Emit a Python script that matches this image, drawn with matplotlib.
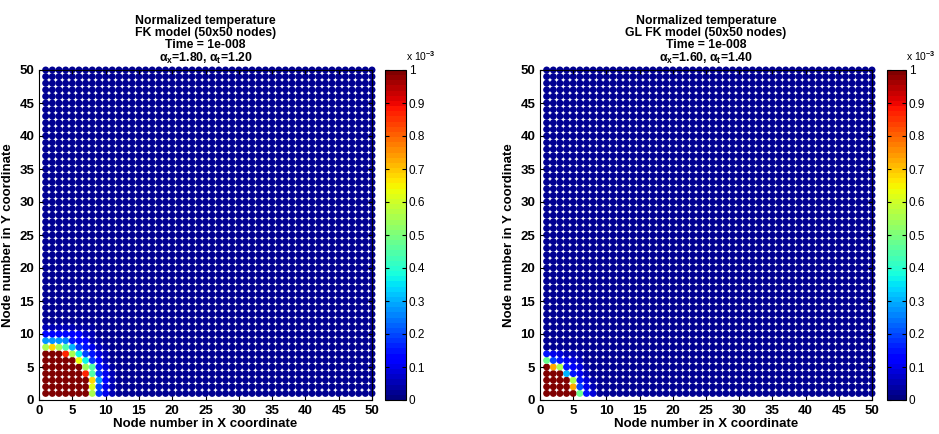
import numpy as np
import matplotlib
matplotlib.use("Agg")
from matplotlib import pyplot as plt

plt.rcParams['font.family'] = ['Liberation Sans', 'DejaVu Sans']
plt.rcParams['mathtext.fontset'] = 'custom'
plt.rcParams['mathtext.rm'] = 'Liberation Sans:bold'
plt.rcParams['mathtext.it'] = 'Liberation Sans:bold'

n_nodes = 50
background = 0.03   # far field value (x 1e-3)

# corner values, rows y=1.., cols x=1.. (x 1e-3)
fk_corner = [
    [1.2, 1.2, 1.2, 1.2, 1.2, 1.2, 1.2, 0.56, 0.18, 0.10, 0.05],
    [1.2, 1.2, 1.2, 1.2, 1.2, 1.2, 1.2, 0.62, 0.20, 0.10, 0.05],
    [1.2, 1.2, 1.2, 1.2, 1.2, 1.2, 1.2, 0.68, 0.28, 0.12, 0.05],
    [1.2, 1.2, 1.2, 1.2, 1.2, 1.2, 0.87, 0.45, 0.18, 0.10, 0.05],
    [1.2, 1.2, 1.2, 1.2, 1.2, 1.2, 0.54, 0.45, 0.15, 0.08, 0.04],
    [1.2, 1.2, 1.2, 1.2, 1.2, 0.63, 0.37, 0.18, 0.12, 0.06, 0.03],
    [1.2, 1.2, 1.2, 0.87, 0.56, 0.37, 0.20, 0.15, 0.08, 0.05, 0.03],
    [0.56, 0.68, 0.56, 0.45, 0.30, 0.18, 0.15, 0.10, 0.06, 0.04, 0.03],
    [0.28, 0.28, 0.28, 0.26, 0.15, 0.14, 0.12, 0.06, 0.04, 0.03, 0.02],
    [0.13, 0.13, 0.13, 0.12, 0.12, 0.11, 0.07, 0.05, 0.03, 0.02, 0.02],
    [0.06, 0.06, 0.06, 0.06, 0.06, 0.04, 0.04, 0.04, 0.03, 0.03, 0.03],
]
glfk_corner = [
    [1.2, 1.2, 1.2, 1.2, 1.2, 0.47, 0.15, 0.08],
    [1.2, 1.2, 1.2, 1.2, 0.72, 0.20, 0.10, 0.05],
    [1.2, 1.2, 1.2, 1.2, 0.56, 0.15, 0.08, 0.04],
    [1.2, 1.2, 1.2, 0.30, 0.15, 0.10, 0.05, 0.03],
    [1.2, 0.72, 0.56, 0.15, 0.12, 0.08, 0.04, 0.03],
    [0.47, 0.20, 0.15, 0.10, 0.08, 0.05, 0.03, 0.03],
    [0.15, 0.10, 0.08, 0.06, 0.05, 0.04, 0.03, 0.03],
]

titles = ['Normalized temperature\nFK model (50x50 nodes)\nTime = 1e-008\n'
          r'$\alpha_x$=1.80, $\alpha_t$=1.20',
          'Normalized temperature\nGL FK model (50x50 nodes)\nTime = 1e-008\n'
          r'$\alpha_x$=1.60, $\alpha_t$=1.40']
ticks = list(range(0, 51, 5))
cbar_ticks = [0, 0.1, 0.2, 0.3, 0.4, 0.5, 0.6, 0.7, 0.8, 0.9, 1]
cbar_labels = ['0', '0.1', '0.2', '0.3', '0.4', '0.5', '0.6', '0.7', '0.8', '0.9', '1']


def build_field(corner):
    T = np.full((n_nodes, n_nodes), background)
    c = np.array(corner)
    T[:c.shape[0], :c.shape[1]] = c
    return T


W, H = 939, 434
fig = plt.figure(figsize=(W / 100, H / 100), dpi=100)
cmap = plt.get_cmap('jet', 64)

ax_px = [(39, 372), (540, 872)]
cb_px = [(385, 406), (887, 906)]
top_px, bot_px = 70, 400

gx, gy = np.meshgrid(np.arange(1, n_nodes + 1), np.arange(1, n_nodes + 1))

for k, corner in enumerate([fk_corner, glfk_corner]):
    T = build_field(corner)
    l, r = ax_px[k]
    ax = fig.add_axes([l / W, 1 - bot_px / H, (r - l) / W, (bot_px - top_px) / H])
    sc = ax.scatter(gx.ravel(), gy.ravel(), c=T.ravel(), cmap=cmap, vmin=0, vmax=1,
                    s=25, marker='o', linewidths=0, clip_on=False)
    ax.set_xlim(0, 50)
    ax.set_ylim(0, 50)
    ax.set_xticks(ticks)
    ax.set_yticks(ticks)
    ax.tick_params(direction='in', top=True, right=True, length=3, labelsize=9.5)
    for lab in ax.get_xticklabels() + ax.get_yticklabels():
        lab.set_fontweight('bold')
    ax.set_xlabel('Node number in X coordinate', fontsize=9.5, fontweight='bold', labelpad=1)
    ax.set_ylabel('Node number in Y coordinate', fontsize=9.5, fontweight='bold', labelpad=4)
    ax.set_title(titles[k], fontsize=8.8, fontweight='bold', linespacing=1.0, pad=6)

    cl, cr = cb_px[k]
    cax = fig.add_axes([cl / W, 1 - bot_px / H, (cr - cl) / W, (bot_px - top_px) / H])
    cb = fig.colorbar(sc, cax=cax, ticks=cbar_ticks)
    cb.ax.set_yticklabels(cbar_labels)
    cb.ax.tick_params(direction='in', length=3, labelsize=8.5, left=True, right=True,
                      pad=2)
    cb.outline.set_linewidth(0.8)
    cax.text(1.0, 1.022, r'x 10$^{-3}$', transform=cax.transAxes, fontsize=7.5,
             ha='left', va='bottom')

fig.savefig('out.png', dpi=100)
